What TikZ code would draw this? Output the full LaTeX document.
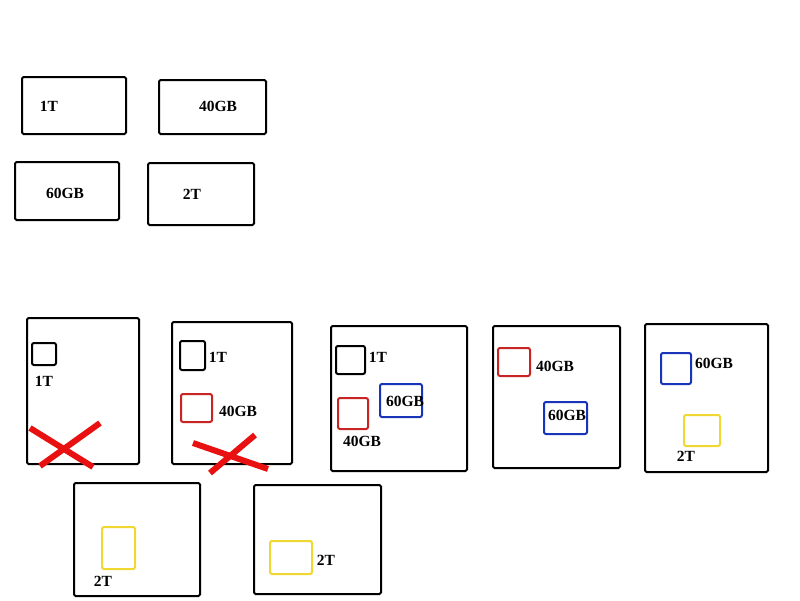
\documentclass[tikz,border=0pt]{standalone}
\usepackage{fontspec}
\setmainfont{Liberation Serif}
\definecolor{xred}{RGB}{232,16,16}
\definecolor{sqred}{RGB}{200,36,36}
\definecolor{sqblue}{RGB}{24,52,184}
\definecolor{sqyellow}{RGB}{240,216,48}
\begin{document}
\begin{tikzpicture}[x=1pt,y=-1pt,
  box/.style={draw=black, line width=2pt, rounded corners=1.5pt, inner sep=0pt, outer sep=0pt, anchor=north west},
  sq/.style={draw=#1, line width=2pt, rounded corners=2pt, inner sep=0pt, outer sep=0pt, anchor=north west},
  lbl/.style={inner sep=0pt, font=\fontsize{15.5}{18}\selectfont\bfseries},
  cross/.style={draw=xred, line width=6pt}]
\useasboundingbox[fill=white] (0,0) rectangle (800,600);
% top boxes
\node[box, minimum width=104pt, minimum height=57pt] (b1) at (22,77) {};
\node[lbl] (t1) at (49,106) {1T};
\node[box, minimum width=107pt, minimum height=54pt] (b2) at (159,80) {};
\node[lbl] (t2) at (218,106) {40GB};
\node[box, minimum width=104pt, minimum height=58pt] (b3) at (15,162) {};
\node[lbl] (t3) at (65,193) {60GB};
\node[box, minimum width=106pt, minimum height=62pt] (b4) at (148,163) {};
\node[lbl] (t4) at (192,194) {2T};
% bottom box A
\node[box, minimum width=112pt, minimum height=146pt] (A) at (27,318) {};
\node[sq=black, minimum width=24pt, minimum height=22pt] (Aa) at (32,343) {};
\node[lbl] (Aat) at (44,381) {1T};
\draw[cross] (30,428) -- (93,467);
\draw[cross] (100,423) -- (40,466);
% box B
\node[box, minimum width=120pt, minimum height=142pt] (B) at (172,322) {};
\node[sq=black, minimum width=25pt, minimum height=29pt] (Ba) at (180,341) {};
\node[lbl] (Bat) at (218,357) {1T};
\node[sq=sqred, minimum width=31pt, minimum height=28pt] (Bb) at (181,394) {};
\node[lbl] (Bbt) at (238,411) {40GB};
\draw[cross] (193,443) -- (268,469);
\draw[cross] (255,435) -- (210,473);
% box C
\node[box, minimum width=136pt, minimum height=145pt] (C) at (331,326) {};
\node[sq=black, minimum width=29pt, minimum height=28pt] (Ca) at (336,346) {};
\node[lbl] (Cat) at (378,357) {1T};
\node[sq=sqred, minimum width=30pt, minimum height=31pt] (Cb) at (338,398) {};
\node[lbl] (Cbt) at (362,441) {40GB};
\node[sq=sqblue, minimum width=42pt, minimum height=33pt] (Cc) at (380,384) {};
\node[lbl] (Cct) at (405,401) {60GB};
% box D
\node[box, minimum width=127pt, minimum height=142pt] (D) at (493,326) {};
\node[sq=sqred, minimum width=32pt, minimum height=28pt] (Da) at (498,348) {};
\node[lbl] (Dat) at (555,366) {40GB};
\node[sq=sqblue, minimum width=43pt, minimum height=32pt] (Db) at (544,402) {};
\node[lbl] (Dbt) at (567,415) {60GB};
% box E
\node[box, minimum width=123pt, minimum height=148pt] (E) at (645,324) {};
\node[sq=sqblue, minimum width=30pt, minimum height=31pt] (Ea) at (661,353) {};
\node[lbl] (Eat) at (714,363) {60GB};
\node[sq=sqyellow, minimum width=36pt, minimum height=31pt] (Eb) at (684,415) {};
\node[lbl] (Ebt) at (686,456) {2T};
% box F
\node[box, minimum width=126pt, minimum height=113pt] (F) at (74,483) {};
\node[sq=sqyellow, minimum width=33pt, minimum height=42pt] (Fa) at (102,527) {};
\node[lbl] (Fat) at (103,581) {2T};
% box G
\node[box, minimum width=127pt, minimum height=109pt] (G) at (254,485) {};
\node[sq=sqyellow, minimum width=42pt, minimum height=33pt] (Ga) at (270,541) {};
\node[lbl] (Gat) at (326,560) {2T};
\end{tikzpicture}
\end{document}
